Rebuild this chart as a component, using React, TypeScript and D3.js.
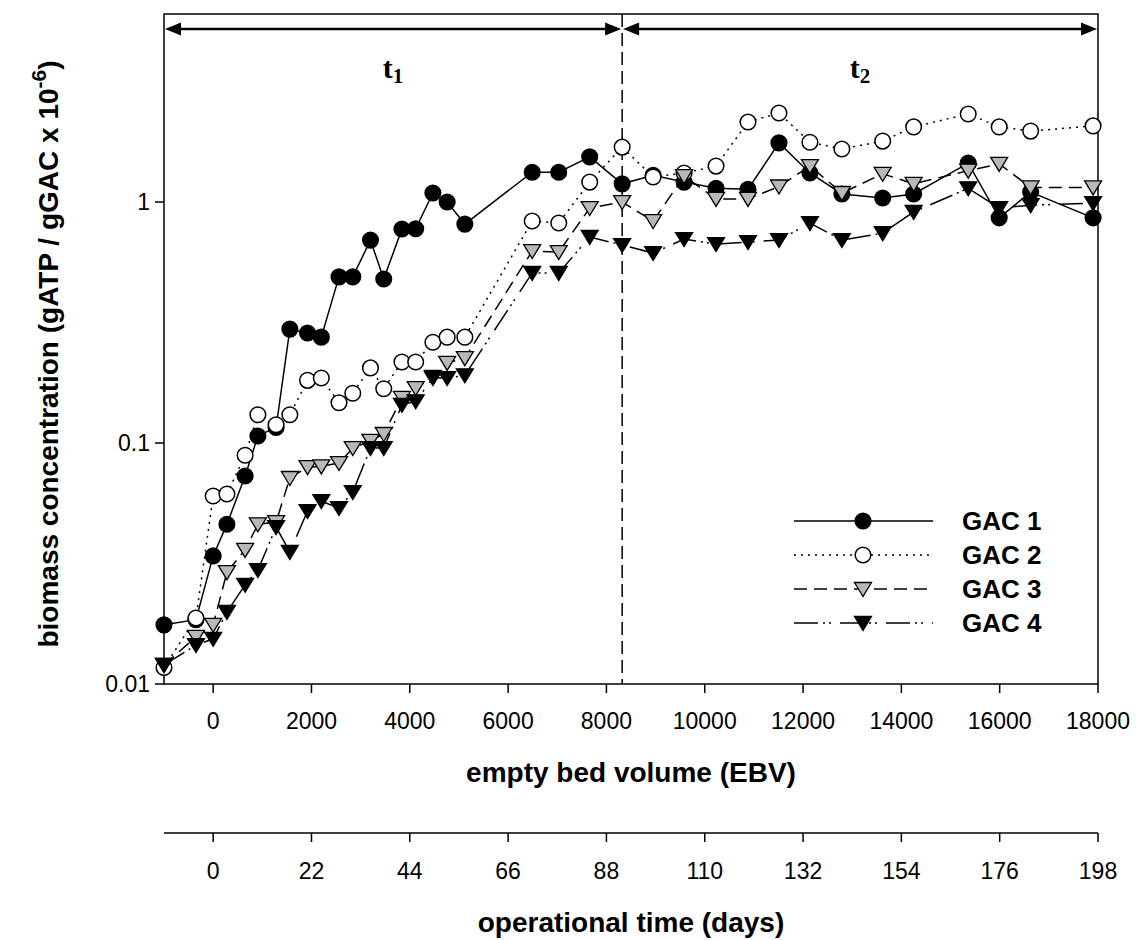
import React from "react";
import * as d3 from "d3";

const ebv = [-1000, -350, 0, 280, 650, 910, 1280, 1560, 1920, 2200, 2560, 2840, 3200, 3470, 3840, 4120, 4470, 4760, 5120, 6490, 7030, 7660, 8320, 8950, 9580, 10230, 10880, 11510, 12140, 12790, 13620, 14250, 15360, 15990, 16630, 17900];
const gac1 = [0.0176, 0.0185, 0.034, 0.046, 0.073, 0.107, 0.116, 0.297, 0.286, 0.275, 0.489, 0.489, 0.695, 0.479, 0.773, 0.775, 1.09, 1.0, 0.81, 1.33, 1.33, 1.54, 1.19, 1.29, 1.21, 1.14, 1.13, 1.76, 1.32, 1.08, 1.04, 1.08, 1.45, 0.86, 1.10, 0.86];
const gac2 = [0.0117, 0.0188, 0.0603, 0.0614, 0.089, 0.131, 0.119, 0.131, 0.182, 0.186, 0.147, 0.161, 0.205, 0.168, 0.217, 0.217, 0.262, 0.275, 0.275, 0.834, 0.818, 1.21, 1.69, 1.27, 1.32, 1.41, 2.15, 2.34, 1.77, 1.66, 1.79, 2.05, 2.32, 2.05, 1.97, 2.07];
const gac3 = [0.012, 0.0157, 0.0176, 0.0291, 0.036, 0.046, 0.047, 0.0716, 0.0794, 0.08, 0.0826, 0.0953, 0.102, 0.109, 0.154, 0.169, 0.188, 0.215, 0.225, 0.626, 0.62, 0.944, 1.0, 0.834, 1.28, 1.03, 1.03, 1.16, 1.41, 1.09, 1.31, 1.19, 1.35, 1.44, 1.15, 1.15];
const gac4 = [0.012, 0.0145, 0.0154, 0.0199, 0.0258, 0.0297, 0.0448, 0.0353, 0.0522, 0.0574, 0.0537, 0.0626, 0.0953, 0.0953, 0.144, 0.149, 0.186, 0.186, 0.191, 0.508, 0.508, 0.716, 0.663, 0.614, 0.702, 0.669, 0.682, 0.695, 0.818, 0.695, 0.743, 0.91, 1.14, 0.944, 0.97, 0.99];

const seriesNames = ["GAC 1", "GAC 2", "GAC 3", "GAC 4"];
const ebvTicks = [0, 2000, 4000, 6000, 8000, 10000, 12000, 14000, 16000, 18000];
const dayTicks = [0, 22, 44, 66, 88, 110, 132, 154, 176, 198];
const yTicks = [0.01, 0.1, 1];
const phaseBoundary = 8320;

const L = 164, R = 1098, T = 14, B = 684;
const font = "'Liberation Sans', Arial, sans-serif";
const serif = "'Liberation Serif', 'Times New Roman', serif";

export default function App() {
  const x = d3.scaleLinear().domain([-1000, 18000]).range([L, R]);
  const days = d3.scaleLinear().domain([-11, 198]).range([L, R]);
  const y = d3.scaleLog().domain([0.01, 6.03]).range([B, T]);

  const styles = [
    { dash: null, marker: "circle", fill: "#000" },
    { dash: "2,5", marker: "circle", fill: "#fff" },
    { dash: "13,7", marker: "tri", fill: "#b8b8b8" },
    { dash: "24,5,2,4,2,9", marker: "tri", fill: "#000" },
  ];
  const all = [gac1, gac2, gac3, gac4];
  const line = d3.line<number>().x((_, i) => x(ebv[i])).y((v) => y(v));

  const marker = (kind: string, fill: string, cx: number, cy: number, key: any) =>
    kind === "circle" ? (
      <circle key={key} cx={cx} cy={cy} r={7.8} fill={fill} stroke="#000" strokeWidth={1.5} />
    ) : (
      <path key={key} d={`M${cx - 8.5},${cy - 6.5}L${cx + 8.5},${cy - 6.5}L${cx},${cy + 7.5}Z`} fill={fill} stroke="#000" strokeWidth={1.3} strokeLinejoin="miter" />
    );

  const ah = (x0: number, yy: number, dir: number) =>
    `M${x0},${yy}L${x0 - dir * 16},${yy - 6.5}L${x0 - dir * 16},${yy + 6.5}Z`;
  const arrowY = 29;
  const xb = x(phaseBoundary);
  const cx = (L + R) / 2;

  const legY = [521, 555, 589, 623];

  return (
    <svg width={1136} height={940} style={{ display: "block", position: "absolute", left: 0, top: 0 }}>
      <rect width={1136} height={940} fill="#fff" />
      {/* frame */}
      <rect x={L} y={T} width={R - L} height={B - T} fill="none" stroke="#000" strokeWidth={1.5} />
      {/* y ticks */}
      {yTicks.map((t) => (
        <g key={t}>
          <line x1={L - 9} x2={L} y1={y(t)} y2={y(t)} stroke="#000" strokeWidth={1.5} />
          <text x={L - 14} y={y(t) + 8} textAnchor="end" fontFamily={font} fontSize={23}>{String(t)}</text>
        </g>
      ))}
      {/* x ticks */}
      {ebvTicks.map((t) => (
        <g key={t}>
          <line x1={x(t)} x2={x(t)} y1={B} y2={B + 9} stroke="#000" strokeWidth={1.5} />
          <text x={x(t)} y={729} textAnchor="middle" fontFamily={font} fontSize={23}>{t}</text>
        </g>
      ))}
      <text x={cx} y={782} textAnchor="middle" fontFamily={font} fontWeight="bold" fontSize={28}>empty bed volume (EBV)</text>
      {/* days axis */}
      <line x1={L} x2={R} y1={833} y2={833} stroke="#000" strokeWidth={1.5} />
      {dayTicks.map((t) => (
        <g key={t}>
          <line x1={days(t)} x2={days(t)} y1={833} y2={842} stroke="#000" strokeWidth={1.5} />
          <text x={days(t)} y={879} textAnchor="middle" fontFamily={font} fontSize={23}>{t}</text>
        </g>
      ))}
      <text x={cx} y={932} textAnchor="middle" fontFamily={font} fontWeight="bold" fontSize={28}>operational time (days)</text>
      {/* y label */}
      <text transform={`translate(58,${(T + B) / 2 + 5}) rotate(-90)`} textAnchor="middle" fontFamily={font} fontWeight="bold" fontSize={28}>
        biomass concentration (gATP / gGAC x 10<tspan dy={-12} fontSize={21}>-6</tspan><tspan dy={12}>)</tspan>
      </text>
      {/* phase line and arrows */}
      <line x1={xb} x2={xb} y1={T} y2={B} stroke="#000" strokeWidth={1.5} strokeDasharray="13,6" />
      <line x1={L + 12} x2={xb - 12} y1={arrowY} y2={arrowY} stroke="#000" strokeWidth={2.4} />
      <line x1={xb + 12} x2={R - 12} y1={arrowY} y2={arrowY} stroke="#000" strokeWidth={2.4} />
      <path d={ah(L + 1, arrowY, -1)} fill="#000" />
      <path d={ah(xb - 1, arrowY, 1)} fill="#000" />
      <path d={ah(xb + 1, arrowY, -1)} fill="#000" />
      <path d={ah(R - 1, arrowY, 1)} fill="#000" />
      <text x={(L + xb) / 2} y={78} textAnchor="middle" fontFamily={serif} fontWeight="bold" fontSize={30}>
        t<tspan dy={5} fontSize={21}>1</tspan>
      </text>
      <text x={(xb + R) / 2} y={78} textAnchor="middle" fontFamily={serif} fontWeight="bold" fontSize={30}>
        t<tspan dy={5} fontSize={21}>2</tspan>
      </text>
      {/* series */}
      {all.map((vals, si) => (
        <g key={si}>
          <path d={line(vals) || ""} fill="none" stroke="#000" strokeWidth={1.5} strokeDasharray={styles[si].dash || undefined} />
          {vals.map((v, i) => marker(styles[si].marker, styles[si].fill, x(ebv[i]), y(v), i))}
        </g>
      ))}
      {/* legend */}
      {seriesNames.map((n, i) => (
        <g key={n}>
          <line x1={794} x2={933} y1={legY[i]} y2={legY[i]} stroke="#000" strokeWidth={1.5} strokeDasharray={styles[i].dash || undefined} />
          {marker(styles[i].marker, styles[i].fill, 863, legY[i], "m")}
          <text x={962} y={legY[i] + 9} fontFamily={font} fontWeight="bold" fontSize={26}>{n}</text>
        </g>
      ))}
    </svg>
  );
}
